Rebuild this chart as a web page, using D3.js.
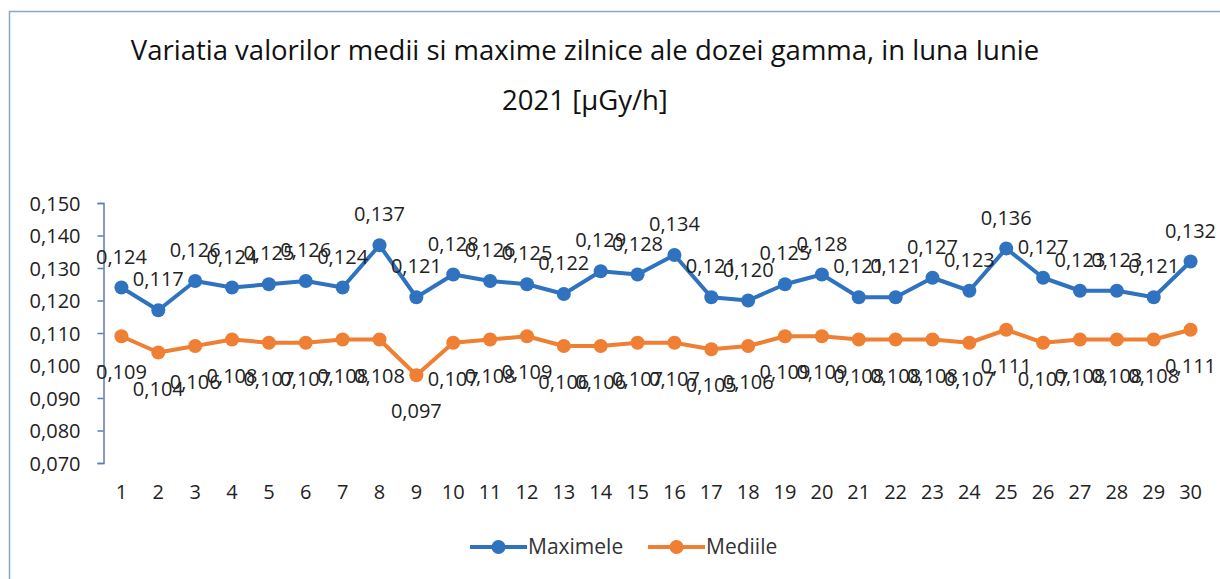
<!DOCTYPE html>
<html>
<head>
<meta charset="utf-8">
<script src="https://cdn.jsdelivr.net/npm/d3@7"></script>
<style>
  body { margin: 0; background: #fff; }
  text { font-family: 'Open Sans', 'Noto Sans', sans-serif; }
</style>
</head>
<body>
<div id="chart"></div>
<script>
// data
var days = d3.range(1, 31);
var maximele = [0.124, 0.117, 0.126, 0.124, 0.125, 0.126, 0.124, 0.137, 0.121, 0.128,
                0.126, 0.125, 0.122, 0.129, 0.128, 0.134, 0.121, 0.120, 0.125, 0.128,
                0.121, 0.121, 0.127, 0.123, 0.136, 0.127, 0.123, 0.123, 0.121, 0.132];
var mediile = [0.109, 0.104, 0.106, 0.108, 0.107, 0.107, 0.108, 0.108, 0.097, 0.107,
               0.108, 0.109, 0.106, 0.106, 0.107, 0.107, 0.105, 0.106, 0.109, 0.109,
               0.108, 0.108, 0.108, 0.107, 0.111, 0.107, 0.108, 0.108, 0.108, 0.111];
var yTicks = [0.07, 0.08, 0.09, 0.10, 0.11, 0.12, 0.13, 0.14, 0.15];
var seriesNames = ['Maximele', 'Mediile'];
var titleLines = ['Variatia valorilor medii si maxime zilnice ale dozei gamma, in luna Iunie',
                  '2021 [\u00b5Gy/h]'];

function buildChart(containerId) {
    var width = 1220;
    var height = 579;
    var blue = '#2f72c0';
    var orange = '#ee7f33';
    var axisColor = '#5b7db5';
    var fmt = function(v) { return d3.format('.3f')(v).replace('.', ','); };

    var svg = d3.select(containerId)
        .append('svg')
        .attr('width', width)
        .attr('height', height);

    // frame
    svg.append('rect')
        .attr('x', 9.5).attr('y', 11.5)
        .attr('width', width + 20).attr('height', height + 20)
        .style('fill', 'none')
        .style('stroke', '#8ea6cf')
        .style('stroke-width', 1.5);

    // title
    svg.append('g').selectAll('text')
        .data(titleLines)
        .enter()
        .append('text')
        .attr('x', 585)
        .attr('y', (d, i) => 60 + i * 50)
        .attr('text-anchor', 'middle')
        .style('font-size', '27.5px')
        .style('fill', '#111')
        .text(d => d);

    var x = d3.scaleBand()
        .domain(days)
        .range([103, 1209]);

    var y = d3.scaleLinear()
        .domain([0.07, 0.15])
        .range([463, 203]);

    // y axis
    var yAxis = d3.axisLeft(y)
        .tickValues(yTicks)
        .tickSize(6)
        .tickFormat(fmt);

    var ya = svg.append('g')
        .attr('transform', 'translate(103.5,0)')
        .call(yAxis);
    ya.select('.domain').style('stroke', axisColor).style('stroke-width', 1.5);
    ya.selectAll('.tick line').style('stroke', axisColor).style('stroke-width', 1.5);
    ya.selectAll('.tick text')
        .attr('x', -23)
        .attr('dy', '0.35em')
        .style('font-size', '20px')
        .style('font-family', "'Open Sans', sans-serif")
        .style('fill', '#222');

    // x labels
    svg.append('g').selectAll('text')
        .data(days)
        .enter()
        .append('text')
        .attr('x', d => x(d) + x.bandwidth() / 2)
        .attr('y', 499)
        .attr('text-anchor', 'middle')
        .style('font-size', '20px')
        .style('fill', '#222')
        .text(d => d);

    var line = d3.line()
        .x((d, i) => x(days[i]) + x.bandwidth() / 2)
        .y(d => y(d));

    function drawSeries(values, color, labelDy) {
        var g = svg.append('g');
        g.append('path')
            .datum(values)
            .attr('d', line)
            .style('fill', 'none')
            .style('stroke', color)
            .style('stroke-width', 4)
            .style('stroke-linejoin', 'round');
        g.selectAll('circle')
            .data(values)
            .enter()
            .append('circle')
            .attr('cx', (d, i) => x(days[i]) + x.bandwidth() / 2)
            .attr('cy', d => y(d))
            .attr('r', 7)
            .style('fill', color);
        g.selectAll('text')
            .data(values)
            .enter()
            .append('text')
            .attr('x', (d, i) => x(days[i]) + x.bandwidth() / 2)
            .attr('y', d => y(d) + labelDy)
            .attr('text-anchor', 'middle')
            .style('font-size', '20px')
            .style('fill', '#222')
            .text(d => fmt(d));
    }

    drawSeries(maximele, blue, -24);
    drawSeries(mediile, orange, 43);

    // legend
    var legend = svg.append('g');
    var legendItems = [
        { name: seriesNames[0], color: blue, x: 470 },
        { name: seriesNames[1], color: orange, x: 648 }
    ];
    var li = legend.selectAll('g')
        .data(legendItems)
        .enter()
        .append('g')
        .attr('transform', d => 'translate(' + d.x + ',547)');
    li.append('line')
        .attr('x1', 0).attr('x2', 57)
        .style('stroke', d => d.color)
        .style('stroke-width', 4);
    li.append('circle')
        .attr('cx', 28.5)
        .attr('r', 7)
        .style('fill', d => d.color);
    li.append('text')
        .attr('x', 58)
        .attr('dy', '0.35em')
        .style('font-size', '21px')
        .style('fill', '#333')
        .text(d => d.name);
}

buildChart('#chart');
</script>
</body>
</html>
